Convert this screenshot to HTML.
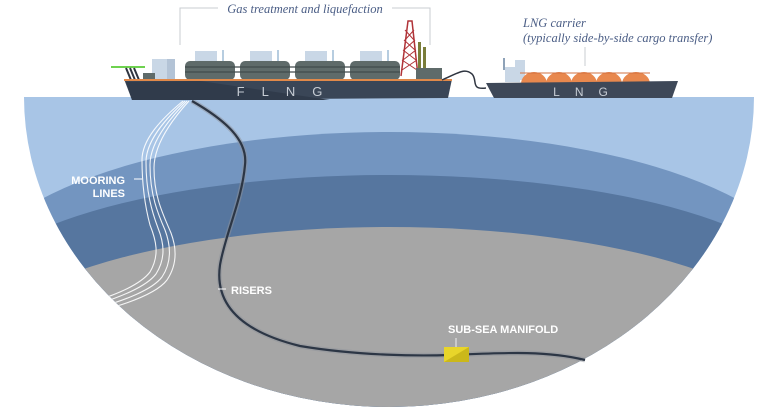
<!DOCTYPE html>
<html><head><meta charset="utf-8"><style>
html,body{margin:0;padding:0;background:#fff;width:766px;height:416px;overflow:hidden}
svg{display:block;overflow:hidden}
.lab{font-family:"Liberation Sans Narrow","Liberation Sans",sans-serif;font-weight:bold;fill:#fff;font-size:11px}
.it{font-family:"Liberation Serif",serif;font-style:italic;fill:#4a5d85;font-size:12.5px}
</style></head><body>
<svg width="766" height="416" viewBox="0 0 766 416">
<defs>
<clipPath id="bowl"><path d="M24 97 L754 97 A365 310 0 0 1 24 97 Z"/></clipPath>
</defs>
<g clip-path="url(#bowl)">
<rect x="0" y="90" width="766" height="326" fill="#a8c5e6"/>
<ellipse cx="389" cy="285" rx="420" ry="153" fill="#7395c0"/>
<ellipse cx="389" cy="299" rx="420" ry="124" fill="#56769f"/>
<ellipse cx="389" cy="361" rx="420" ry="134" fill="#a6a6a6"/>
<!-- mooring lines -->
<g fill="none" stroke="#fff" stroke-width="1.1" opacity="0.9">
<path d="M183 101 C160 120 142 140 142 160 C142 190 146 210 150 225 C156 240 160 255 150 272 C140 285 115 295 92 302"/>
<path d="M185 101 C163 121 146 142 146 162 C146 192 152 212 158 228 C164 243 166 258 156 274 C146 287 120 297 95 305"/>
<path d="M187 101 C166 122 150 144 150 165 C150 195 158 214 165 230 C171 246 172 262 162 277 C152 290 125 300 98 308"/>
<path d="M189 101 C169 123 154 146 154 168 C154 198 164 216 171 233 C177 249 177 265 167 280 C157 293 130 303 100 311"/>
</g>
</g>
<!-- riser -->
<path d="M192 101 C225 120 248 140 245 165 C242 200 225 235 220 265 C215 300 235 330 300 346 C360 356 420 356 450 355 C500 353 545 350 585 360" fill="none" stroke="#8d9299" stroke-width="5" opacity="0.5"/>
<path d="M192 101 C225 120 248 140 245 165 C242 200 225 235 220 265 C215 300 235 330 300 346 C360 356 420 356 450 355 C500 353 545 350 585 360" fill="none" stroke="#2c3645" stroke-width="2.2"/>
<rect x="444" y="347" width="25" height="15" fill="#e8d52a"/>
<path d="M444 362 L469 347 L469 362 Z" fill="#cbb81a"/>
<line x1="456" y1="347" x2="456" y2="338" stroke="#fff" stroke-width="0.8"/>
<!-- labels -->
<text class="lab" x="125" y="184" text-anchor="end">MOORING</text>
<text class="lab" x="125" y="197" text-anchor="end">LINES</text>
<line x1="134" y1="179" x2="142" y2="179" stroke="#fff"/>
<text class="lab" x="231" y="294">RISERS</text>
<line x1="218" y1="289" x2="226" y2="289" stroke="#fff"/>
<text class="lab" x="448" y="333">SUB-SEA MANIFOLD</text>
<!-- top labels -->
<path d="M180 45 V8 H218 M392 8 H430 V45" fill="none" stroke="#c8ccd2" stroke-width="1"/>
<text class="it" x="305" y="13" text-anchor="middle">Gas treatment and liquefaction</text>
<text class="it" x="523" y="27">LNG carrier</text>
<text class="it" x="523" y="42">(typically side-by-side cargo transfer)</text>
<line x1="585" y1="47" x2="585" y2="66" stroke="#c8ccd2"/>
<!-- FLNG -->
<rect x="152" y="59" width="23" height="20" fill="#c9d7e6"/>
<rect x="167" y="59" width="8" height="20" fill="#b3c3d6"/>
<rect x="195" y="51" width="22" height="10" fill="#c9d7e6"/><rect x="250" y="51" width="22" height="10" fill="#c9d7e6"/><rect x="305" y="51" width="22" height="10" fill="#c9d7e6"/><rect x="360" y="51" width="22" height="10" fill="#c9d7e6"/>
<rect x="222" y="50" width="2" height="11" fill="#b7cde0"/><rect x="277" y="50" width="2" height="11" fill="#b7cde0"/><rect x="332" y="50" width="2" height="11" fill="#b7cde0"/><rect x="387" y="50" width="2" height="11" fill="#b7cde0"/>
<g fill="#5f6b6a">
<rect x="185" y="61" width="50" height="19" rx="5"/><rect x="240" y="61" width="50" height="19" rx="5"/><rect x="295" y="61" width="50" height="19" rx="5"/><rect x="350" y="61" width="50" height="19" rx="5"/>
</g>
<g stroke="#414b4c" stroke-width="1.2"><line x1="185" y1="67" x2="400" y2="67"/><line x1="185" y1="72" x2="400" y2="72"/></g>
<rect x="143" y="73" width="12" height="7" fill="#5f6b6a"/>
<rect x="111" y="66" width="34" height="2" fill="#6ed24f"/>
<path d="M126 68 l5 12 M130 68 l5 12 M134 68 l5 12" stroke="#2f3540" stroke-width="2"/>
<path d="M401 76 L408 21 L412 21 L418 76" fill="none" stroke="#b03338" stroke-width="1.5"/>
<path d="M402 70 L417 60 M403 60 L416 50 M404 50 L415 40 M405 40 L414 30 M402 60 L417 70 M403 50 L416 60 M404 40 L415 50 M405 30 L414 40" stroke="#b03338" stroke-width="1"/>
<rect x="418" y="42" width="3" height="30" fill="#7a7d3a"/><rect x="423" y="47" width="3" height="25" fill="#7a7d3a"/>
<rect x="416" y="68" width="26" height="12" fill="#5f6b6a"/>
<path d="M124 79 L452 79 L448 98 L132 100 Z" fill="#3a4657"/>
<path d="M124 79 L452 79 L452 81 L124 81 Z" fill="#e0894a"/>
<path d="M200 81 L330 100 L132 100 L126 82 Z" fill="#303b4b"/>
<text x="288" y="96" text-anchor="middle" font-family="Liberation Sans Narrow,Liberation Sans,sans-serif" font-size="13" fill="#c6ccd4" letter-spacing="17">FLNG</text>
<path d="M442 80 C460 72 465 68 472 74 C478 80 470 90 486 88" fill="none" stroke="#2f3540" stroke-width="1.5"/>
<!-- LNG carrier -->
<rect x="505" y="67" width="15" height="15" fill="#c9d7e6"/>
<rect x="515" y="60" width="10" height="20" fill="#c9d7e6"/>
<rect x="503" y="58" width="2" height="12" fill="#8ea2b8"/>
<g fill="#e8884e"><ellipse cx="534" cy="84" rx="13" ry="12"/><ellipse cx="559" cy="84" rx="13" ry="12"/><ellipse cx="584" cy="84" rx="13" ry="12"/><ellipse cx="609" cy="84" rx="13" ry="12"/><ellipse cx="636" cy="84" rx="14" ry="12"/></g>
<line x1="520" y1="73" x2="650" y2="73" stroke="#d27040"/>
<path d="M486 83 L678 81 L672 98 L494 98 Z" fill="#3e4858"/>
<text x="588" y="96" text-anchor="middle" font-family="Liberation Sans Narrow,Liberation Sans,sans-serif" font-size="12" fill="#c6ccd4" letter-spacing="15">LNG</text>
</svg>
</body></html>
